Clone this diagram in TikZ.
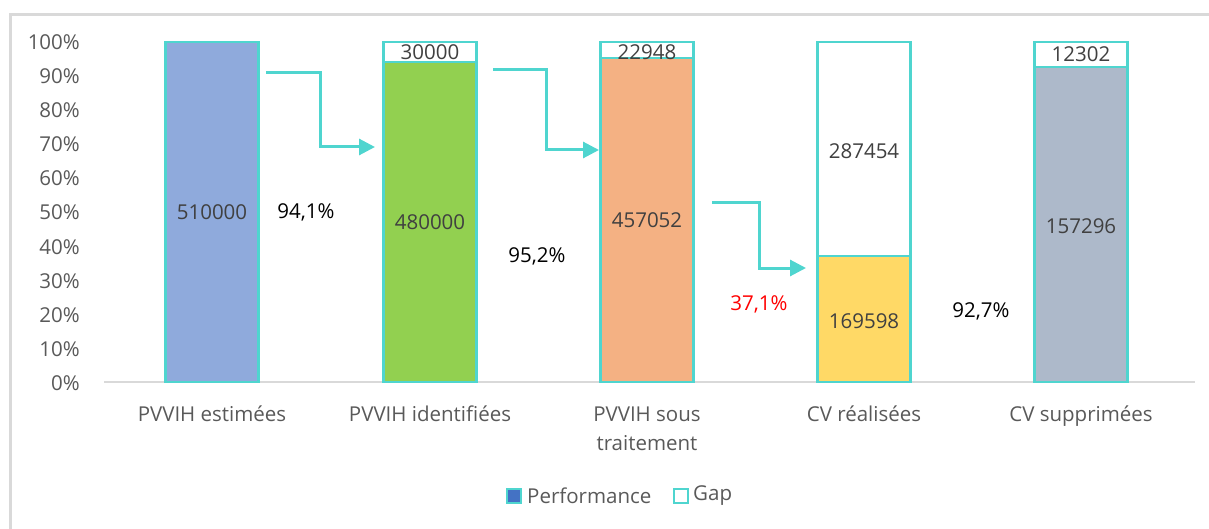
\documentclass[tikz,border=0pt]{standalone}
\usepackage{fontspec}
\setmainfont{Open Sans}
\usetikzlibrary{arrows.meta,calc}
\definecolor{turq}{RGB}{79,213,207}
\definecolor{bleu}{RGB}{143,170,220}
\definecolor{vert}{RGB}{146,208,80}
\definecolor{saumon}{RGB}{244,177,131}
\definecolor{jaune}{RGB}{255,217,102}
\definecolor{grisbleu}{RGB}{173,185,202}
\definecolor{legbleu}{RGB}{68,114,196}
\definecolor{axe}{RGB}{89,89,89}
\definecolor{valtxt}{RGB}{64,64,64}
\definecolor{cadre}{RGB}{217,217,217}
\begin{document}
\begin{tikzpicture}[x=1pt, y=-1pt,
    txt/.style = {font=\fontsize{20.5}{29}\selectfont, inner sep=0pt},
    tick/.style = {txt, text=axe, anchor=base east},
    val/.style = {txt, text=valtxt},
    pct/.style = {txt, text=black},
    categ/.style = {txt, text=axe, anchor=base, align=center},
    barre/.style = {draw=turq, line width=2.5pt},
    fleche/.style = {draw=turq, line width=3pt, -{Triangle[length=16pt, width=16pt]}}]
  \useasboundingbox (0,0) rectangle (1209,529);
  % cadre du graphique
  \draw[cadre, line width=2.5pt] (10.5,529) -- (10.5,14.5) -- (1209,14.5);
  % axe des y
  \foreach \v in {0,10,...,100}
    \node[tick] (t\v) at (80,382-3.4*\v+8) {\v\%};
  \draw[cadre, line width=1.5pt] (104,382) -- (1195,382);
  % barres: centre / haut de la performance / couleur
  \foreach \cx/\cut/\col in {212/42/bleu, 430/62/vert, 647/58/saumon, 864/256/jaune, 1081/67/grisbleu} {
    \draw[barre, fill=white] (\cx-46.5,42) rectangle (\cx+46.5,\cut);
    \draw[barre, fill=\col] (\cx-46.5,\cut) rectangle (\cx+46.5,382);
  }
  % valeurs
  \node[val] (v1) at (212,212) {510000};
  \node[val] (v2) at (430,222) {480000};
  \node[val] (g2) at (430,52) {30000};
  \node[val] (v3) at (647,220) {457052};
  \node[val] (g3) at (647,52) {22948};
  \node[val] (v4) at (864,321) {169598};
  \node[val] (g4) at (864,151) {287454};
  \node[val] (v5) at (1081,226) {157296};
  \node[val] (g5) at (1081,54) {12302};
  % taux
  \node[pct] (p12) at (306,212) {94,1\%};
  \node[pct] (p23) at (537,256) {95,2\%};
  \node[pct, text=red] (p34) at (759,304) {37,1\%};
  \node[pct] (p45) at (981,311) {92,7\%};
  % fleches
  \coordinate (d1) at (266,72.5);  \coordinate (f1) at (375,147);
  \coordinate (d2) at (493,70);    \coordinate (f2) at (599,150);
  \coordinate (d3) at (712,203);   \coordinate (f3) at (806,268);
  \foreach \i in {1,2,3}
    \draw[fleche] (d\i) -| ($(d\i)!.5!(f\i)$) |- (f\i);
  % categories
  \node[categ] (c1) at (212,421) {PVVIH estimées};
  \node[categ] (c2) at (430,421) {PVVIH identifiées};
  \node[categ] (c3) at (647,450) {PVVIH sous\\traitement};
  \node[categ] (c4) at (864,421) {CV réalisées};
  \node[categ] (c5) at (1081,421) {CV supprimées};
  % legende
  \node[draw=turq, fill=legbleu, line width=2pt, minimum size=14pt, inner sep=0pt] (lp) at (514,495.5) {};
  \node[txt, text=axe, anchor=west] (lpt) at (527,495.5) {Performance};
  \node[draw=turq, fill=white, line width=2pt, minimum size=14pt, inner sep=0pt] (lg) at (680.5,495.5) {};
  \node[txt, text=axe, anchor=west] (lgt) at (693,495.5) {Gap};
\end{tikzpicture}
\end{document}
